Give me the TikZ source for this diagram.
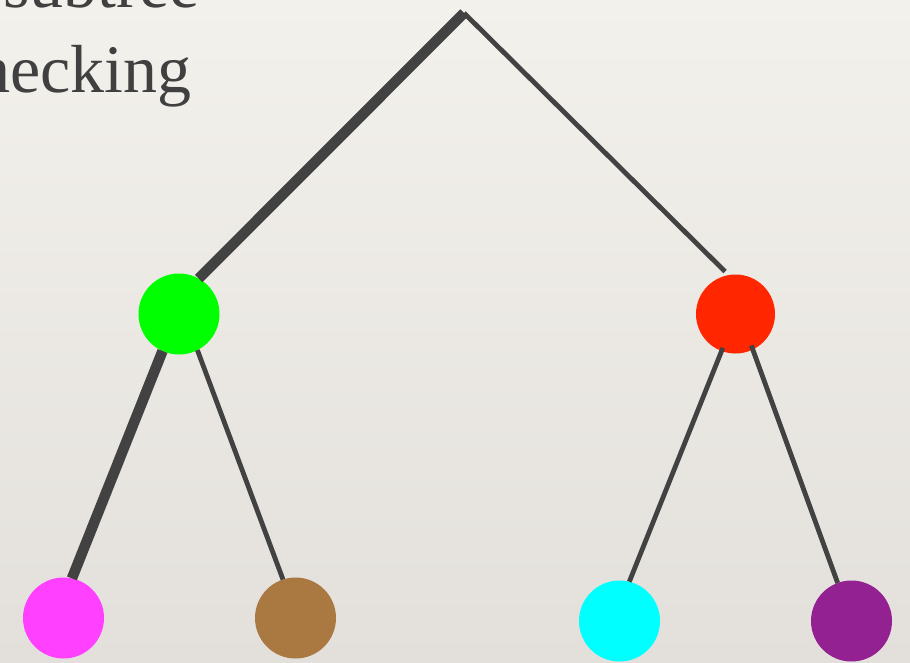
\documentclass[tikz,border=0pt]{standalone}
\usepackage{fontspec}
\setmainfont{Liberation Serif}
\definecolor{edgecol}{HTML}{424242}
\definecolor{txtcol}{HTML}{404040}
\definecolor{bgtop}{HTML}{F3F1EC}
\definecolor{bgbot}{HTML}{E3E0DB}
\definecolor{cgreen}{HTML}{00FF00}
\definecolor{cred}{HTML}{FF2600}
\definecolor{cmag}{HTML}{FF40FF}
\definecolor{cbrown}{HTML}{AA7942}
\definecolor{ccyan}{HTML}{00FFFF}
\definecolor{cpurple}{HTML}{942192}
\begin{document}
\begin{tikzpicture}[x=1pt,y=-1pt,
  dot/.style={circle,minimum size=81pt,inner sep=0pt,outer sep=0pt},
  thinedge/.style={draw=edgecol,line width=4.8pt,line cap=butt},
  thickedge/.style={draw=edgecol,line width=10.5pt,line cap=butt},
  lbl/.style={text=txtcol,inner sep=0pt,anchor=base east,font=\fontsize{68}{80}\selectfont}]
\useasboundingbox (0,0) rectangle (910,662);
\fill[top color=bgtop,bottom color=bgbot] (0,0) rectangle (910,662);
\node[lbl] (t1) at (200,7) {subtree};
\node[lbl] (t2) at (192,92) {checking};
\coordinate (apex) at (464,13);
\node[dot,fill=cgreen] (g) at (179,314) {};
\node[dot,fill=cred,minimum size=79pt] (r) at (735.5,314) {};
\node[dot,fill=cmag] (m) at (63.5,618) {};
\node[dot,fill=cbrown] (b) at (295.5,618) {};
\node[dot,fill=ccyan] (c) at (619.5,621) {};
\node[dot,fill=cpurple] (p) at (851.5,621) {};
\draw[thickedge] (apex) -- (g.61);
\draw[thinedge,shorten >=5pt] (apex) -- (r.100);
\draw[thickedge] (g.246) -- (m.78);
\draw[thinedge] (g.297) -- (b.108);
\draw[thinedge] ([shift={(1.5,-3)}]r.249) -- (c.76);
\draw[thinedge] ([shift={(-1.5,-4)}]r.296) -- (p.110);
\end{tikzpicture}
\end{document}
